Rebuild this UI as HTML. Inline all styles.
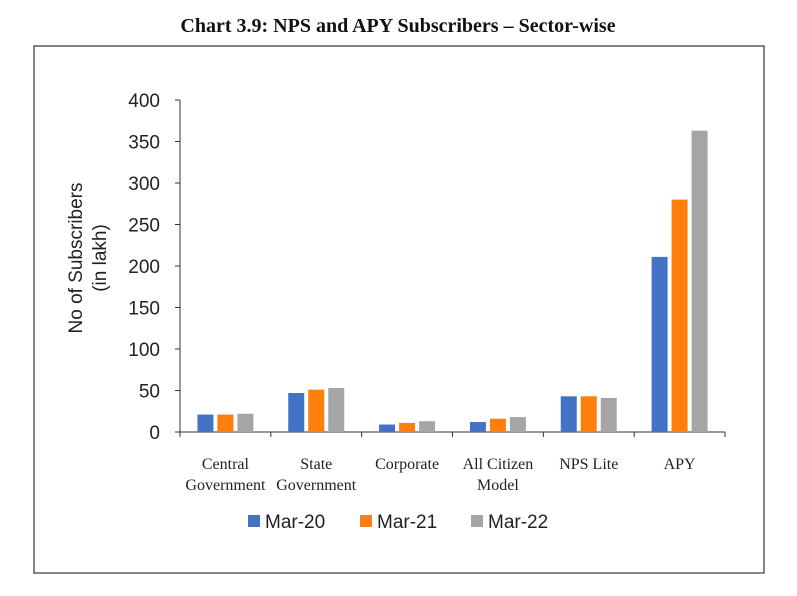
<!DOCTYPE html>
<html><head><meta charset="utf-8"><style>
body{margin:0;background:#fff;width:797px;height:596px;overflow:hidden}
svg{display:block}
</style></head><body>
<svg id="chart" width="797" height="596" xmlns="http://www.w3.org/2000/svg">
<text x="398" y="32" text-anchor="middle" font-family="Liberation Serif, serif" font-weight="bold" font-size="20" fill="#111">Chart 3.9: NPS and APY Subscribers – Sector-wise</text>
<rect x="34" y="46" width="730" height="527" fill="none" stroke="#333" stroke-width="1.2"/>
<g id="plot"></g>
</svg>
<script>
const categories=[["Central","Government"],["State","Government"],["Corporate"],["All Citizen","Model"],["NPS Lite"],["APY"]];
const seriesNames=["Mar-20","Mar-21","Mar-22"];
const mar20=[21,47,9,12,43,211];
const mar21=[21,51,11,16,43,280];
const mar22=[22,53,13,18,41,363];
const yTicks=[0,50,100,150,200,250,300,350,400];
const colors=["#4472C4","#FF7F0E","#A5A5A5"];
const series=[mar20,mar21,mar22];
const NS="http://www.w3.org/2000/svg";
const g=document.getElementById('plot');
const x0=180,x1=725,y0=432,yTop=100,yMax=400;
const bandW=(x1-x0)/categories.length;
function yS(v){return y0-(v/yMax)*(y0-yTop);}
function xC(i){return x0+bandW*(i+0.5);}
function mk(t,a){const e=document.createElementNS(NS,t);for(const k in a)e.setAttribute(k,a[k]);g.appendChild(e);return e;}
// y axis
let ax=mk('line',{x1:x0,y1:yTop,x2:x0,y2:y0,stroke:'#333'});


yTicks.forEach(v=>{
 const t=mk('line',{x1:x0-5,y1:yS(v),x2:x0,y2:yS(v),stroke:'#333'});
 
 
 const l=mk('text',{x:x0-20,y:yS(v)+7,'text-anchor':'end','font-family':'Liberation Sans, sans-serif','font-size':'19',fill:'#222'});
 l.textContent=v;
 
 
});
let xa=mk('line',{x1:x0,y1:y0,x2:x1,y2:y0,stroke:'#333'});


for(let i=0;i<=categories.length;i++){
 const t=mk('line',{x1:x0+bandW*i,y1:y0,x2:x0+bandW*i,y2:y0+5,stroke:'#333'});
 
 
}
const bw=16,gap=4;
categories.forEach((c,i)=>{
 series.forEach((s,j)=>{
  const x=xC(i)+(j-1)*(bw+gap)-bw/2;
  const r=mk('rect',{x:x,y:yS(s[i]),width:bw,height:y0-yS(s[i]),fill:colors[j]});
  
  
 });
 c.forEach((line,k)=>{
  const t=mk('text',{x:xC(i),y:469+k*21,'text-anchor':'middle','font-family':'Liberation Serif, serif','font-size':'16',fill:'#222'});
  t.textContent=line;
  
  
 });
});
const yt=mk('text',{x:0,y:0,'text-anchor':'middle','font-family':'Liberation Sans, sans-serif','font-size':'19',fill:'#222',transform:'translate(82,258) rotate(-90)'});


yt.innerHTML='<tspan x="0" dy="0">No of Subscribers</tspan><tspan x="0" dy="24">(in lakh)</tspan>';
const lx=[248,360,471];
seriesNames.forEach((n,j)=>{
 const r=mk('rect',{x:lx[j],y:515,width:12,height:12,fill:colors[j]});
 
 
 const t=mk('text',{x:lx[j]+17,y:528,'font-family':'Liberation Sans, sans-serif','font-size':'19',fill:'#222'});
 t.textContent=n;
 
 
});
</script>
</body></html>
